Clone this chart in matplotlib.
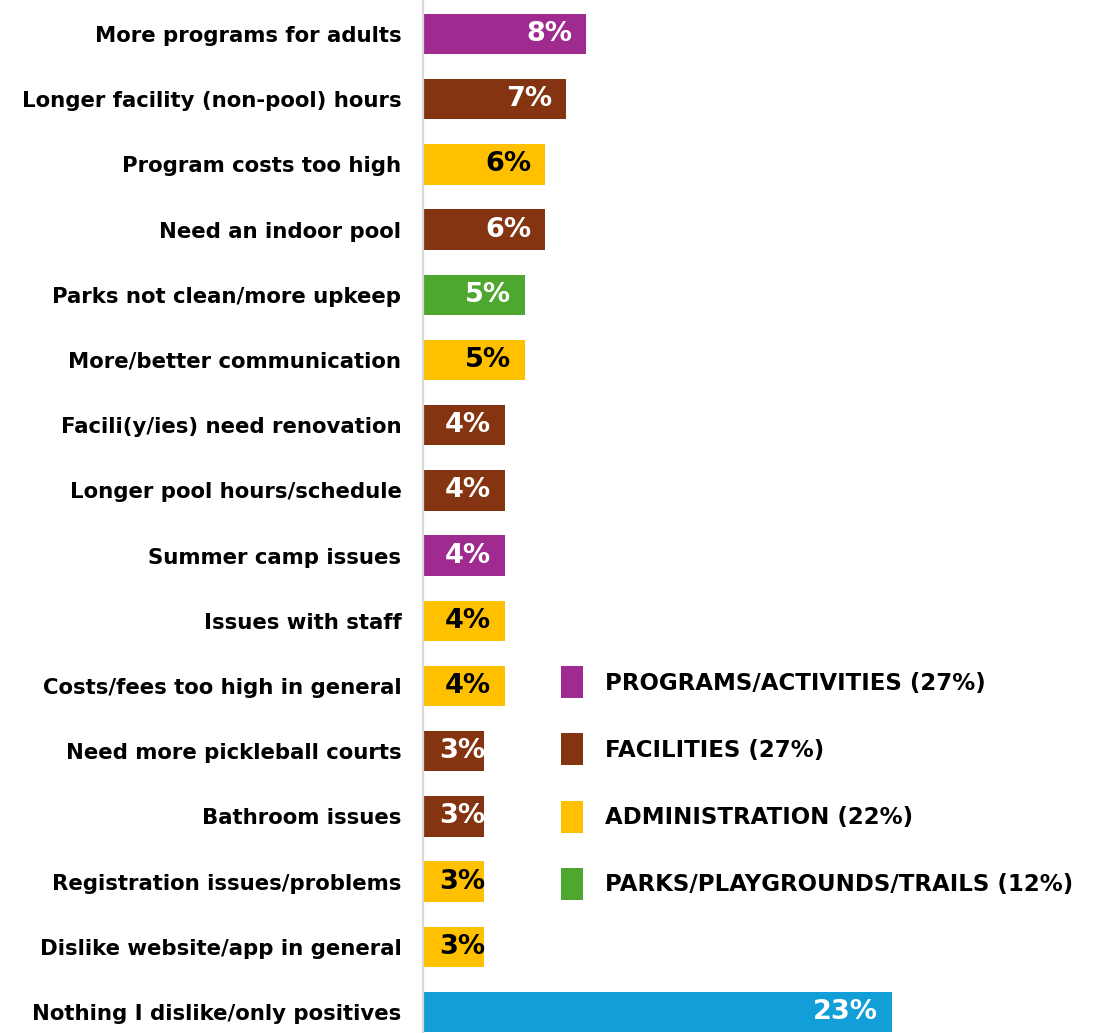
import matplotlib
matplotlib.use("Agg")
import matplotlib.pyplot as plt
from matplotlib.patches import Patch

categories = [
    "More programs for adults",
    "Longer facility (non-pool) hours",
    "Program costs too high",
    "Need an indoor pool",
    "Parks not clean/more upkeep",
    "More/better communication",
    "Facili(y/ies) need renovation",
    "Longer pool hours/schedule",
    "Summer camp issues",
    "Issues with staff",
    "Costs/fees too high in general",
    "Need more pickleball courts",
    "Bathroom issues",
    "Registration issues/problems",
    "Dislike website/app in general",
    "Nothing I dislike/only positives",
]
values = [8, 7, 6, 6, 5, 5, 4, 4, 4, 4, 4, 3, 3, 3, 3, 23]
groups = ["prog", "fac", "adm", "fac", "park", "adm", "fac", "fac", "prog",
          "adm", "adm", "fac", "fac", "adm", "adm", "none"]
legend_labels = ["PROGRAMS/ACTIVITIES (27%)", "FACILITIES (27%)",
                 "ADMINISTRATION (22%)", "PARKS/PLAYGROUNDS/TRAILS (12%)"]
legend_keys = ["prog", "fac", "adm", "park"]

colors = {"prog": "#A02B90", "fac": "#843410", "adm": "#FFC000",
          "park": "#4EA72E", "none": "#129FD7"}
text_colors = {"prog": "white", "fac": "white", "adm": "black",
               "park": "white", "none": "white"}

W, H = 1101, 1033
fig = plt.figure(figsize=(W / 100, H / 100), dpi=100)
ax = fig.add_axes([423 / W, 0, 1 - 423 / W, 1])

y = list(range(len(categories)))
ax.barh(y, values, height=0.62, color=[colors[g] for g in groups], zorder=2)

ax.set_ylim(15.32, -0.52)
ax.set_xlim(0, 33.25)
for s in ["top", "right", "bottom"]:
    ax.spines[s].set_visible(False)
ax.spines["left"].set_color("#D9D9D9")
ax.spines["left"].set_linewidth(1.6)
ax.set_xticks([])
ax.set_yticks(y)
ax.set_yticklabels(categories, fontsize=15.3, fontweight="bold")
ax.tick_params(axis="y", length=0, pad=15.5)

for i, (v, g) in enumerate(zip(values, groups)):
    if v <= 3:
        ax.annotate(f"{v}%", (0, i), xytext=(12, 0), textcoords="offset points",
                    ha="left", va="center", fontsize=19.5, fontweight="bold",
                    color=text_colors[g], zorder=3)
    else:
        ax.annotate(f"{v}%", (v, i), xytext=(-10, 0), textcoords="offset points",
                    ha="right", va="center", fontsize=19.5, fontweight="bold",
                    color=text_colors[g], zorder=3)

handles = [Patch(facecolor=colors[k], edgecolor="none") for k in legend_keys]
leg = ax.legend(handles, legend_labels, loc="upper left",
                bbox_to_anchor=(552 / W, 1 - 657 / H), bbox_transform=fig.transFigure,
                frameon=False, prop={"size": 16.5, "weight": "bold"},
                handlelength=0.96, handleheight=1.77, handletextpad=0.96,
                labelspacing=1.54, borderaxespad=0)

fig.savefig("out.png", dpi=100)
